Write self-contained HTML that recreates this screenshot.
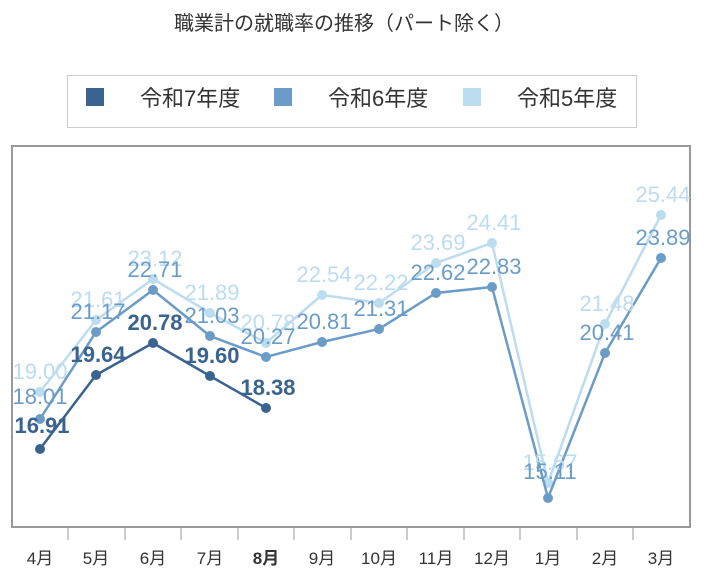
<!DOCTYPE html>
<html><head><meta charset="utf-8"><style>
body{margin:0;background:#fff;}
svg{display:block;font-family:"Liberation Sans","Noto Sans CJK JP",sans-serif;}
</style></head><body>
<svg width="709" height="576" viewBox="0 0 709 576">
<text x="344" y="30" font-size="20" text-anchor="middle" fill="#333">職業計の就職率の推移（パート除く）</text>
<rect x="67.5" y="75.5" width="569" height="52" fill="#fff" stroke="#ccc"/>
<rect x="86" y="88" width="18" height="18" fill="#3a6390"/>
<text x="140" y="106" font-size="22" fill="#333">令和7年度</text>
<rect x="274" y="88" width="18" height="18" fill="#6b9cc8"/>
<text x="328" y="106" font-size="22" fill="#333">令和6年度</text>
<rect x="463" y="88" width="18" height="18" fill="#bcdcf0"/>
<text x="517" y="106" font-size="22" fill="#333">令和5年度</text>
<rect x="12" y="146" width="678" height="381" fill="#fff" stroke="#999" stroke-width="2"/>
<g stroke="#999" stroke-width="1">
<line x1="68" y1="527" x2="68" y2="540"/><line x1="125" y1="527" x2="125" y2="540"/><line x1="181" y1="527" x2="181" y2="540"/><line x1="238" y1="527" x2="238" y2="540"/><line x1="294" y1="527" x2="294" y2="540"/><line x1="351" y1="527" x2="351" y2="540"/><line x1="407" y1="527" x2="407" y2="540"/><line x1="464" y1="527" x2="464" y2="540"/><line x1="520" y1="527" x2="520" y2="540"/><line x1="577" y1="527" x2="577" y2="540"/><line x1="633" y1="527" x2="633" y2="540"/>
</g>
<g font-size="17" fill="#333" text-anchor="middle">
<text x="40" y="564">4月</text><text x="96" y="564">5月</text><text x="153" y="564">6月</text><text x="210" y="564">7月</text><text x="266" y="564" font-weight="bold">8月</text><text x="322" y="564">9月</text><text x="379" y="564">10月</text><text x="436" y="564">11月</text><text x="492" y="564">12月</text><text x="548" y="564">1月</text><text x="605" y="564">2月</text><text x="661" y="564">3月</text>
</g>
<polyline fill="none" stroke="#bcdcf0" stroke-width="2.5" points="40,392 96,320 153,279 210,313 266,343 322,295 379,303 436,263 492,243 548,483 605,324 661,215"/>
<g fill="#bcdcf0"><circle cx="40" cy="392" r="5"/><circle cx="96" cy="320" r="5"/><circle cx="153" cy="279" r="5"/><circle cx="210" cy="313" r="5"/><circle cx="266" cy="343" r="5"/><circle cx="322" cy="295" r="5"/><circle cx="379" cy="303" r="5"/><circle cx="436" cy="263" r="5"/><circle cx="492" cy="243" r="5"/><circle cx="548" cy="483" r="5"/><circle cx="605" cy="324" r="5"/><circle cx="661" cy="215" r="5"/></g>
<polyline fill="none" stroke="#6b9cc8" stroke-width="2.5" points="40,419 96,332 153,290 210,336 266,357 322,342 379,329 436,293 492,287 548,498 605,353 661,258"/>
<g fill="#6b9cc8"><circle cx="40" cy="419" r="5"/><circle cx="96" cy="332" r="5"/><circle cx="153" cy="290" r="5"/><circle cx="210" cy="336" r="5"/><circle cx="266" cy="357" r="5"/><circle cx="322" cy="342" r="5"/><circle cx="379" cy="329" r="5"/><circle cx="436" cy="293" r="5"/><circle cx="492" cy="287" r="5"/><circle cx="548" cy="498" r="5"/><circle cx="605" cy="353" r="5"/><circle cx="661" cy="258" r="5"/></g>
<polyline fill="none" stroke="#3a6390" stroke-width="2.5" points="40,449 96,375 153,343 210,376 266,408"/>
<g fill="#3a6390"><circle cx="40" cy="449" r="5"/><circle cx="96" cy="375" r="5"/><circle cx="153" cy="343" r="5"/><circle cx="210" cy="376" r="5"/><circle cx="266" cy="408" r="5"/></g>
<g font-size="22" text-anchor="middle" fill="#bcdcf0">
<text x="40" y="379">19.00</text><text x="98" y="307">21.61</text><text x="155" y="266">23.12</text><text x="212" y="300">21.89</text><text x="268" y="330">20.78</text><text x="324" y="282">22.54</text><text x="381" y="290">22.22</text><text x="438" y="250">23.69</text><text x="494" y="230">24.41</text><text x="550" y="470">15.67</text><text x="607" y="311">21.48</text><text x="663" y="202">25.44</text>
</g>
<g font-size="22" text-anchor="middle" fill="#6b9cc8">
<text x="40" y="404">18.01</text><text x="98" y="319">21.17</text><text x="155" y="277">22.71</text><text x="212" y="323">21.03</text><text x="268" y="344">20.27</text><text x="324" y="329">20.81</text><text x="381" y="316">21.31</text><text x="438" y="280">22.62</text><text x="494" y="274">22.83</text><text x="550" y="479">15.11</text><text x="607" y="340">20.41</text><text x="663" y="245">23.89</text>
</g>
<g font-size="22" font-weight="bold" text-anchor="middle" fill="#3a6390">
<text x="42" y="433">16.91</text><text x="98" y="362">19.64</text><text x="155" y="330">20.78</text><text x="212" y="363">19.60</text><text x="268" y="395">18.38</text>
</g>
</svg>
</body></html>
